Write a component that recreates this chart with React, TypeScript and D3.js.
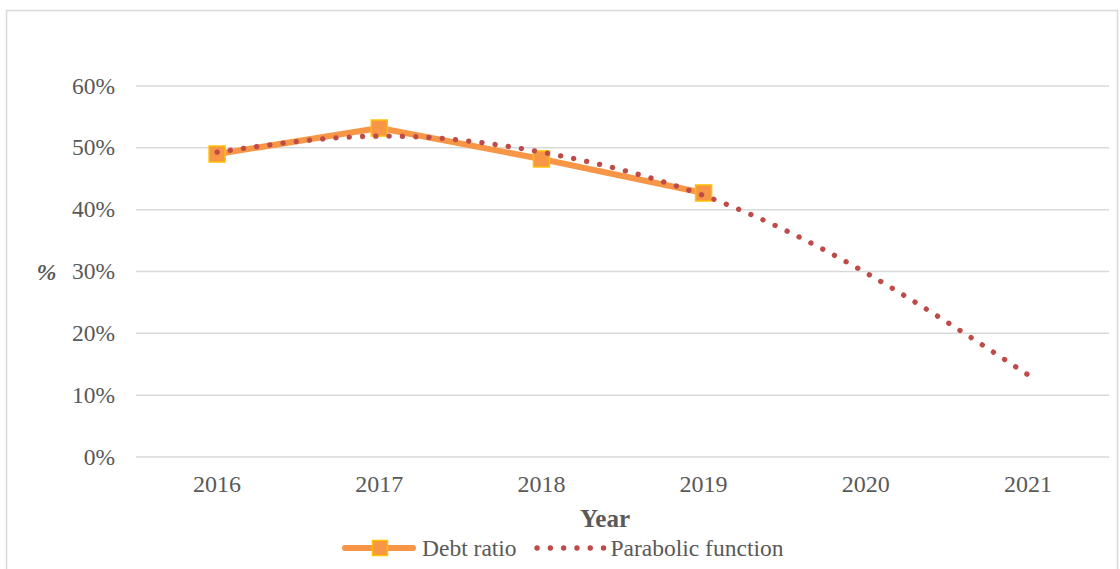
import React from "react";
import * as d3 from "d3";

const years = ["2016", "2017", "2018", "2019", "2020", "2021"];
const debtYears = ["2016", "2017", "2018", "2019"];
const debtRatio = [0.49, 0.532, 0.482, 0.427];
const parabolic = [0.493, 0.519, 0.493, 0.423, 0.298, 0.133];
const yTicks = [0, 0.1, 0.2, 0.3, 0.4, 0.5, 0.6];

const W = 1120;
const H = 569;
const left = 136;
const right = 1109;
const top = 86;
const bottom = 457;

export default function App() {
  const x = d3.scaleBand<string>().domain(years).range([left, right]);
  const y = d3.scaleLinear().domain([0, 0.6]).range([bottom, top]);
  const cx = (d: string) => (x(d) as number) + x.bandwidth() / 2;
  const fmt = d3.format(".0%");

  const debtLine = d3
    .line<number>()
    .x((_, i) => cx(debtYears[i]))
    .y((d) => y(d))(debtRatio) as string;

  const paraLine = d3
    .line<number>()
    .x((_, i) => cx(years[i]))
    .y((d) => y(d))
    .curve(d3.curveNatural)(parabolic) as string;

  const font = "Liberation Serif";
  const textColor = "#595959";
  const orange = "#F79646";
  const gold = "#FFC000";
  const red = "#BE4B48";
  const ts = { fontFamily: font };

  return (
    <svg
      width={W}
      height={H}
      style={{ position: "absolute", left: 0, top: 0, background: "#fff", fontFamily: font }}
    >
      <rect x={6.5} y={10.5} width={1111} height={580} fill="#fff" stroke="#D9D9D9" strokeWidth={1.5} />
      {yTicks.map((t) => (
        <g key={t}>
          <line x1={left} x2={right} y1={y(t)} y2={y(t)} stroke="#D9D9D9" strokeWidth={1.5} />
          <text x={115} y={y(t) + 7.5} textAnchor="end" fontSize={23.5} fill={textColor} style={ts}>
            {fmt(t)}
          </text>
        </g>
      ))}
      {years.map((yr) => (
        <text key={yr} x={cx(yr)} y={492} textAnchor="middle" fontSize={24} fill={textColor} style={ts}>
          {yr}
        </text>
      ))}
      <text x={605} y={527} textAnchor="middle" fontSize={25} fontWeight="bold" fill={textColor} style={ts}>
        Year
      </text>
      <text x={46.5} y={280} textAnchor="middle" fontSize={24} fontWeight="bold" fontStyle="italic" fill={textColor} style={ts}>
        %
      </text>

      <path d={debtLine} fill="none" stroke={orange} strokeWidth={6} strokeLinejoin="round" />
      {debtRatio.map((v, i) => (
        <rect
          key={i}
          x={cx(debtYears[i]) - 8}
          y={y(v) - 8}
          width={16}
          height={16}
          fill={orange}
          stroke={gold}
          strokeWidth={1.5}
        />
      ))}
      <path
        d={paraLine}
        fill="none"
        stroke={red}
        strokeWidth={5.3}
        strokeLinecap="round"
        strokeDasharray="0.1 13.2"
      />

      {/* Legend */}
      <line x1={345} x2={413} y1={548} y2={548} stroke={orange} strokeWidth={6} strokeLinecap="round" />
      <rect x={372.5} y={540.5} width={15} height={15} fill={orange} stroke={gold} strokeWidth={1.5} />
      <text x={422} y={556} fontSize={23.5} fill={textColor} style={ts}>
        Debt ratio
      </text>
      <line
        x1={537}
        x2={604}
        y1={548}
        y2={548}
        stroke={red}
        strokeWidth={5.3}
        strokeLinecap="round"
        strokeDasharray="0.1 13.2"
      />
      <text x={610.5} y={556} fontSize={23.5} fill={textColor} style={ts}>
        Parabolic function
      </text>
    </svg>
  );
}
